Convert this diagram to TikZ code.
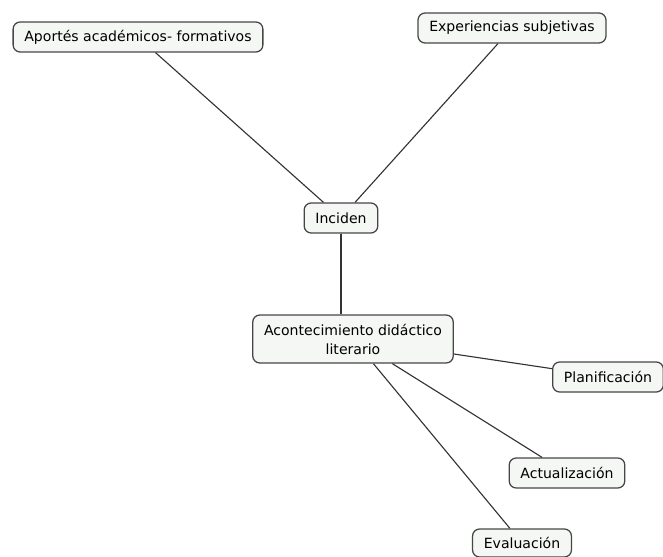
\documentclass[tikz,border=0pt]{standalone}
\usepackage{fontspec}
\setmainfont{DejaVu Sans}
\usepackage{xcolor}
\definecolor{boxfill}{RGB}{244,247,244}
\definecolor{boxline}{RGB}{70,70,70}

\begin{document}
\begin{tikzpicture}[concept/.style={draw=boxline, line width=0.9pt, rounded corners=5pt, fill=boxfill, inner xsep=8pt, minimum height=0.75cm, font=\fontsize{10}{13.5}\selectfont, align=center},
	link/.style={draw=black!80, line width=0.8pt}]
\useasboundingbox (0,0) rectangle (16.575,-13.925);

\node [concept] (v1) at (3.45,-0.925) {Aportés académicos- formativos};
\node [concept] (v2) at (12.8,-0.7) {Experiencias subjetivas};
\node [concept] (v3) at (8.525,-5.45) {Inciden};
\node [concept, minimum height=1.2cm] (v4) at (8.825,-8.475) {Acontecimiento didáctico\\literario};
\node [concept] (v5) at (15.2,-9.425) {Planificación};
\node [concept] (v6) at (14.175,-11.825) {Actualización};
\node [concept, minimum height=0.7cm] (v7) at (13.05,-13.575) {Evaluación};

\draw [link] (v1) -- (v3);
\draw [link] (v2) -- (v3);
\draw [link] (v3.south) -- (v4.north -| v3.south);
\draw [link] (v4) -- (v5);
\draw [link] (v4) -- (v6);
\draw [link] (v4) -- (v7);
\end{tikzpicture}
\end{document}
